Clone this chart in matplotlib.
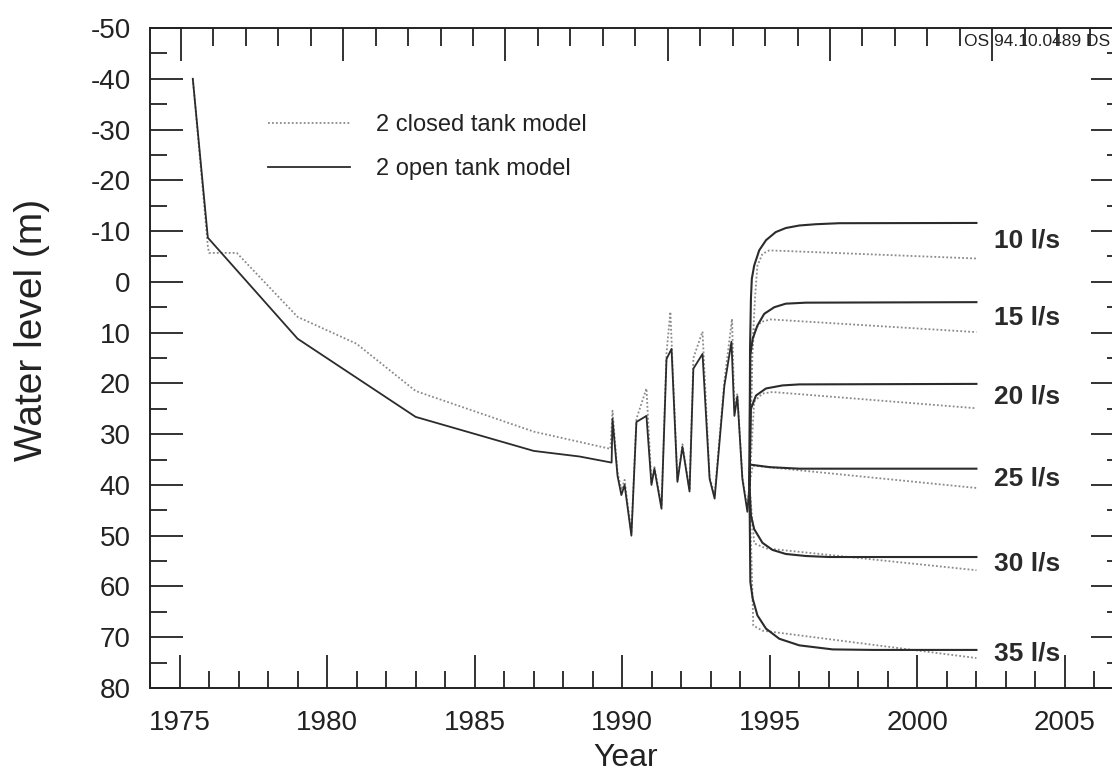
import matplotlib
matplotlib.use('Agg')
import matplotlib.pyplot as plt
from matplotlib.ticker import MultipleLocator

plt.rcParams['font.family'] = ['Liberation Sans', 'DejaVu Sans']
plt.rcParams['axes.unicode_minus'] = False

# Historical record, 2 open tank model (solid)
open_years = [1975.45, 1975.96, 1979.0, 1983.0, 1987.0, 1988.55, 1989.64, 1989.67,
              1989.84, 1989.97, 1990.08, 1990.31, 1990.48, 1990.82, 1990.99, 1991.09,
              1991.33, 1991.50, 1991.67, 1991.87, 1992.04, 1992.28, 1992.41, 1992.72,
              1992.96, 1993.13, 1993.46, 1993.70, 1993.80, 1993.90, 1994.07, 1994.24,
              1994.31]
open_level = [-40, -8.7, 11.2, 26.6, 33.3, 34.4, 35.6, 27.0,
              38.2, 42.0, 40.0, 50.0, 27.6, 26.4, 40.0, 36.8,
              44.7, 15.2, 13.2, 39.4, 32.5, 41.3, 17.1, 14.2,
              38.8, 42.7, 20.5, 11.8, 26.4, 22.6, 38.8, 45.3,
              40.0]

# Historical record, 2 closed tank model (dotted)
closed_years = [1975.45, 1975.96, 1976.0, 1976.94, 1979.0, 1981.0, 1983.0, 1987.0,
                1989.60, 1989.67, 1989.84, 1989.97, 1990.08, 1990.31, 1990.48, 1990.82,
                1990.99, 1991.09, 1991.33, 1991.50, 1991.63, 1991.87, 1992.04, 1992.28,
                1992.41, 1992.72, 1992.96, 1993.13, 1993.46, 1993.72, 1993.80, 1993.90,
                1994.07, 1994.24, 1994.31]
closed_level = [-40, -7.0, -5.7, -5.7, 6.9, 12.2, 21.5, 29.5,
                32.9, 25.4, 37.5, 41.0, 39.0, 49.5, 27.0, 21.0,
                39.5, 36.5, 44.0, 14.0, 5.9, 39.0, 32.0, 41.0,
                15.0, 9.8, 38.5, 42.0, 19.5, 7.3, 25.0, 22.0,
                38.5, 44.5, 40.0]

# Pumping-rate scenarios (l/s) from 1994 onwards
rates = [10, 15, 20, 25, 30, 35]

open_scen_years = [
    [1994.31, 1994.33, 1994.36, 1994.39, 1994.47, 1994.64, 1994.87, 1995.20, 1995.54,
     1996.0, 1996.56, 1997.35, 2002.0],
    [1994.31, 1994.34, 1994.42, 1994.58, 1994.81, 1995.15, 1995.54, 1996.22, 2002.0],
    [1994.31, 1994.36, 1994.53, 1994.87, 1995.43, 1996.0, 2002.0],
    [1994.31, 1994.33, 1995.0, 1996.0, 2002.0],
    [1994.31, 1994.36, 1994.47, 1994.75, 1995.09, 1995.54, 1996.22, 1997.0, 2002.0],
    [1994.31, 1994.34, 1994.42, 1994.58, 1994.87, 1995.32, 1996.0, 1997.13, 1998.5,
     2002.0],
]
open_scen_level = [
    [40, 13.1, 3.3, -0.6, -3.2, -6.2, -8.2, -9.8, -10.6, -11.1, -11.35, -11.55, -11.6],
    [40, 14.4, 11.2, 8.6, 6.3, 5.0, 4.3, 4.1, 4.0],
    [40, 25.0, 22.4, 21.0, 20.4, 20.2, 20.1],
    [40, 36.0, 36.5, 36.8, 36.8],
    [40, 46.0, 48.7, 51.4, 52.8, 53.6, 54.0, 54.2, 54.2],
    [40, 59.1, 62.4, 65.7, 68.3, 70.3, 71.6, 72.4, 72.5, 72.5],
]

closed_scen_years = [
    [1994.31, 1994.42, 1994.50, 1994.58, 1994.75, 1994.98, 2002.0],
    [1994.31, 1994.40, 1994.47, 1994.70, 1995.03, 2002.0],
    [1994.31, 1994.47, 1994.75, 1995.09, 2002.0],
    [1994.31, 1994.42, 2002.0],
    [1994.31, 1994.47, 1994.87, 2002.0],
    [1994.31, 1994.44, 1994.75, 2002.0],
]
closed_scen_level = [
    [40, 12.0, 3.0, -3.2, -5.5, -6.2, -4.6],
    [40, 14.0, 9.6, 7.9, 7.4, 9.9],
    [40, 23.6, 22.0, 21.7, 24.9],
    [40, 36.2, 40.6],
    [40, 51.5, 52.5, 56.8],
    [40, 67.7, 68.7, 74.1],
]

ink = '#222222'
solid_kw = dict(color='#2b2b2b', linewidth=1.3)
dotted_kw = dict(color='#8a8a8a', linewidth=1.3, linestyle=(0, (1, 1.2)))

fig = plt.figure(figsize=(11.12, 7.71), dpi=100)
ax = fig.add_axes([150 / 1112, 83 / 771, 974 / 1112, 660 / 771])

ax.plot(closed_years, closed_level, label='2 closed tank model', **dotted_kw)
ax.plot(open_years, open_level, label='2 open tank model', **solid_kw)
for yrs, lev in zip(closed_scen_years, closed_scen_level):
    ax.plot(yrs, lev, **dotted_kw)
for yrs, lev in zip(open_scen_years, open_scen_level):
    ax.plot(yrs, lev, color='#2b2b2b', linewidth=1.5)

# Rate labels sit between the two model end values
for rate, o_lev, c_lev in zip(rates, open_scen_level, closed_scen_level):
    ax.text(2002.6, (o_lev[-1] + c_lev[-1]) / 2, f'{rate} l/s', fontsize=19,
            fontweight='bold', color='#2a2a2a', ha='left', va='center')

ax.set_xlim(1974.0, 2007.0)
ax.set_ylim(80, -50)

ax.xaxis.set_major_locator(MultipleLocator(5))
ax.xaxis.set_minor_locator(MultipleLocator(1))
ax.yaxis.set_major_locator(MultipleLocator(10))
ax.yaxis.set_minor_locator(MultipleLocator(5))
ax.tick_params(which='both', direction='in', colors=ink, labelsize=20,
               bottom=True, left=True, right=True, top=False, width=1.3)
ax.tick_params(which='major', length=24)
ax.tick_params(which='minor', length=12)
ax.tick_params(axis='y', pad=14)
ax.tick_params(axis='x', pad=16)
for spine in ax.spines.values():
    spine.set_color(ink)
    spine.set_linewidth(1.4)

# Top frame carries its own (slightly wider) tick spacing
top = ax.twiny()
top.set_xlim(-0.955, 29.06)
top.xaxis.set_major_locator(MultipleLocator(5))
top.xaxis.set_minor_locator(MultipleLocator(1))
top.tick_params(which='both', direction='in', colors=ink, labeltop=False, width=1.3)
top.tick_params(which='major', length=24)
top.tick_params(which='minor', length=13)
for spine in top.spines.values():
    spine.set_visible(False)

ax.set_xlabel('Year', fontsize=23, color=ink)
ax.xaxis.label.set_va('baseline')
ax.xaxis.set_label_coords(0.488, -0.118)
ax.set_ylabel('Water level (m)', fontsize=28, color=ink)
ax.yaxis.set_label_coords(-0.103, 0.542)

ax.legend(loc='upper left', bbox_to_anchor=(0.121, 0.870), frameon=False,
          fontsize=17, handlelength=3.5, handletextpad=1.1, labelspacing=0.96,
          borderpad=0, borderaxespad=0, labelcolor=ink)

fig.text(964 / 1112, 1 - 42 / 771, 'OS 94.10.0489 DS', fontsize=12.5,
         color=ink, ha='left', va='center')

fig.savefig('out.png', dpi=100)
